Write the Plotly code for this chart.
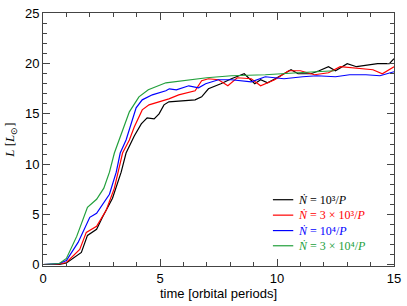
import plotly.graph_objects as go

t_black = [0, 0.7, 1.0, 1.64, 1.9, 2.29, 2.54, 2.97, 3.34, 3.55, 3.9, 4.2, 4.45, 4.75, 4.96, 5.17, 5.38, 5.93, 6.5, 6.78, 7.07, 7.6, 8.05, 8.6, 9.05, 9.3, 9.6, 10.0, 10.6, 10.9, 11.45, 11.8, 12.2, 12.5, 13.0, 13.4, 13.7, 14.3, 14.8, 15.0]
L_black = [0, 0.02, 0.15, 1.2, 2.9, 3.5, 4.7, 6.6, 9.2, 11.1, 12.8, 14.0, 14.6, 14.5, 15.0, 15.9, 16.2, 16.3, 16.4, 16.7, 17.5, 18.0, 18.5, 19.0, 18.0, 18.4, 18.1, 18.6, 19.4, 19.0, 19.0, 19.3, 19.7, 19.3, 20.0, 19.7, 19.8, 20.0, 20.0, 20.5]

t_red = [0, 0.7, 1.0, 1.57, 1.85, 2.29, 2.7, 3.05, 3.4, 3.69, 3.9, 4.24, 4.53, 4.96, 5.38, 5.8, 6.5, 6.78, 7.07, 7.5, 7.9, 8.3, 8.9, 9.3, 9.9, 10.5, 11.0, 11.6, 12.2, 12.7, 13.2, 13.6, 14.1, 14.5, 15.0]
L_red = [0, 0.05, 0.2, 1.5, 3.2, 3.8, 5.4, 7.6, 11.1, 12.4, 13.7, 15.4, 15.9, 16.2, 16.5, 16.9, 17.3, 18.3, 18.5, 18.4, 17.8, 18.6, 18.5, 17.8, 18.4, 19.3, 19.3, 18.9, 19.1, 19.7, 19.6, 19.5, 19.4, 19.0, 19.7]

t_blue = [0, 0.7, 1.0, 1.5, 2.0, 2.29, 2.84, 3.13, 3.3, 3.55, 3.98, 4.24, 4.67, 5.25, 5.4, 5.7, 6.23, 6.65, 6.95, 7.5, 8.05, 8.9, 9.5, 10.3, 11.1, 11.7, 12.5, 13.1, 13.8, 14.4, 15.0]
L_blue = [0, 0.1, 0.4, 2.2, 4.7, 5.1, 7.0, 9.2, 11.1, 12.4, 15.6, 16.4, 16.9, 17.3, 17.5, 17.4, 17.8, 17.6, 18.0, 18.4, 18.4, 18.2, 18.7, 18.5, 18.7, 18.8, 18.7, 18.9, 18.9, 18.8, 19.2]

t_green = [0, 0.7, 1.0, 1.44, 1.9, 2.29, 2.6, 2.84, 3.05, 3.26, 3.69, 4.1, 4.5, 5.25, 5.93, 6.65, 7.0, 8.05, 9.5, 10.9, 12.3, 12.45]
L_green = [0, 0.1, 0.6, 2.8, 5.7, 6.5, 7.6, 9.2, 11.1, 12.4, 15.2, 16.7, 17.4, 18.1, 18.3, 18.5, 18.6, 18.8, 18.9, 19.1, 19.3, 19.3]

labels = [
    "<i>Ṅ</i> = 10³/<i>P</i>",
    "<i>Ṅ</i> = 3 × 10³/<i>P</i>",
    "<i>Ṅ</i> = 10⁴/<i>P</i>",
    "<i>Ṅ</i> = 3 × 10⁴/<i>P</i>",
]
colors = ["#000000", "#ff0000", "#0000ff", "#22a03c"]
series = [(t_black, L_black), (t_red, L_red), (t_blue, L_blue), (t_green, L_green)]

fig = go.Figure()
for (t, L), lab, c in zip(series, labels, colors):
    fig.add_trace(go.Scatter(x=t, y=L, mode="lines", line=dict(color=c, width=1.2),
                             name=lab, showlegend=False))

# legend drawn as line samples + colored labels (paper coordinates)
leg_y = [0.262, 0.201, 0.140, 0.080]
for yy, lab, c in zip(leg_y, labels, colors):
    fig.add_shape(type="line", xref="paper", yref="paper",
                  x0=0.655, x1=0.713, y0=yy, y1=yy, line=dict(color=c, width=1.2))
    fig.add_annotation(xref="paper", yref="paper", x=0.722, y=yy, text=lab,
                       showarrow=False, xanchor="left", yanchor="middle",
                       font=dict(family="Liberation Serif", size=12, color=c))

axis_common = dict(
    showline=True, linecolor="#444", linewidth=1, mirror="allticks",
    ticks="inside", ticklen=7, tickcolor="#444", showgrid=False, zeroline=False,
    tickfont=dict(family="Liberation Sans", size=13, color="black"),
)
fig.update_xaxes(range=[0, 15], tickvals=[0, 5, 10, 15],
                 minor=dict(dtick=1, ticks="inside", ticklen=4, tickcolor="#444", showgrid=False),
                 title=dict(text="time [orbital periods]", standoff=4,
                            font=dict(family="Liberation Sans", size=13, color="black")),
                 **axis_common)
fig.update_yaxes(range=[-0.15, 25.05], tickvals=[0, 5, 10, 15, 20, 25],
                 minor=dict(dtick=1, ticks="inside", ticklen=4, tickcolor="#444", showgrid=False),
                 title=dict(text="<i>L</i> [<i>L</i><sub>⊙</sub>]", standoff=7,
                            font=dict(family="Liberation Serif", size=13, color="black")),
                 **axis_common)

fig.update_layout(
    width=407, height=306,
    margin=dict(l=43, r=10, t=6, b=40),
    plot_bgcolor="white", paper_bgcolor="white",
    showlegend=False,
)
fig.write_html("out.html", config={"displayModeBar": False},
               post_script="document.body.style.margin='0';")
